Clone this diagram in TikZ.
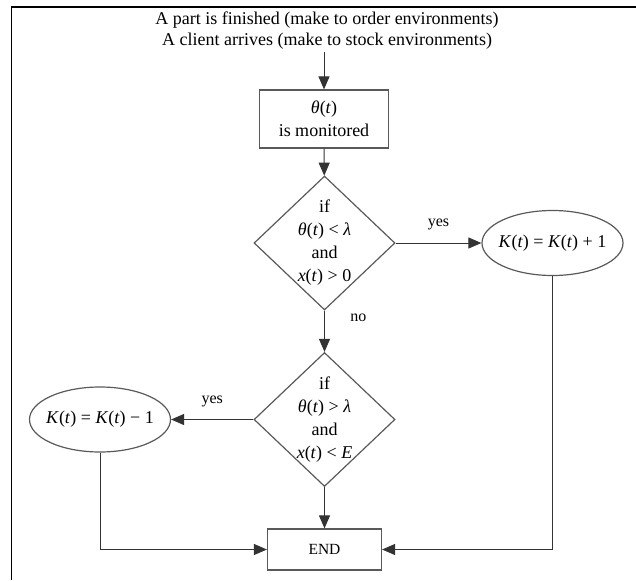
\documentclass[tikz,border=0pt]{standalone}
\usepackage{fontspec}
\setmainfont{Liberation Serif}
\usepackage{tikz}
\usetikzlibrary{shapes}
\usetikzlibrary{arrows.meta}
\tikzset{
  font={\fontsize{15.5pt}{20pt}\selectfont}}
\newcommand{\vi}[1]{\textit{#1}}

\begin{document}
\begin{tikzpicture}[x = 1pt, y = -1pt]

        \tikzset{edge/.style = {->, > = {Triangle[length=13pt, width=11pt]}, draw=black!80, line width=1pt}}
        \tikzset{big/.style = {font={\fontsize{18pt}{23pt}\selectfont}, align=center}}
        \tikzset{boxed/.style = {draw=black!65, line width=1.2pt, inner sep=0pt}}
        \tikzset{cond/.style = {boxed, big, diamond, inner sep=-12pt, minimum width=141pt, minimum height=134pt}}
        \tikzset{act/.style = {boxed, big, ellipse, inner sep=-8pt, minimum width=141pt, minimum height=65pt}}
        \tikzset{lab/.style = {font={\fontsize{16pt}{18pt}\selectfont}}}

        \useasboundingbox (0,0) rectangle (636,580);

        % page frame
        \draw[line width=1.6pt] (11.5,580) -- (11.5,7) -- (636,7);

        % vertices
        \node[align=center, inner sep=2pt, font={\fontsize{18pt}{21pt}\selectfont}] (start) at (327,31)
            {A part is finished (make to order environments)\\A client arrives (make to stock environments)};
        \node[boxed, big, rectangle, minimum width=129pt, minimum height=58pt] (mon)
            at (324,119) {\vi{θ}(\vi{t})\\is monitored};
        \node[cond] (c1) at (324.5,243) {if\\\vi{θ}(\vi{t}) < \vi{λ}\\and\\\vi{x}(\vi{t}) > 0};
        \node[cond] (c2) at (324.5,419.5) {if\\\vi{θ}(\vi{t}) > \vi{λ}\\and\\\vi{x}(\vi{t}) < \vi{E}};
        \node[act] (inc) at (552.5,243) {\vi{K}(\vi{t}) = \vi{K}(\vi{t}) + 1};
        \node[act] (dec) at (100,419.5) {\vi{K}(\vi{t}) = \vi{K}(\vi{t}) − 1};
        \node[boxed, rectangle, minimum width=114pt, minimum height=41pt] (end)
            at (324.5,549.5) {END};

        %edges
        \draw[edge] (start.south -| mon.north) to (mon);
        \draw[edge] (mon) to (c1);
        \draw[edge] (c1) to node [lab, above=9pt] {yes} (inc);
        \draw[edge] (c1) to node [lab, pos=0.17, right=22pt] {no} (c2);
        \draw[edge] (c2) to node [lab, above=9pt] {yes} (dec);
        \draw[edge] (c2) to (end);
        \draw[edge] (dec.south) |- (end.west);
        \draw[edge] (inc.south) |- (end.east);

\end{tikzpicture}
\end{document}
